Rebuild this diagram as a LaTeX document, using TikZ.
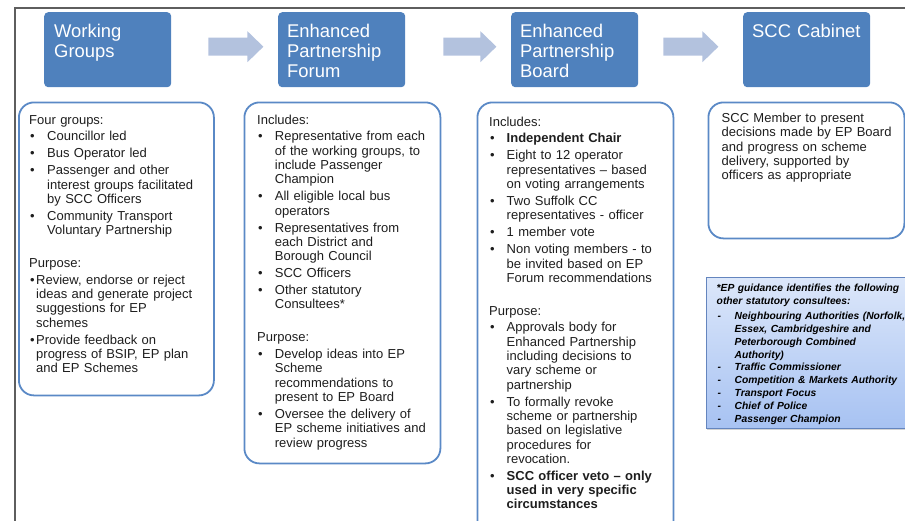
\documentclass[tikz,border=0pt]{standalone}
\usepackage{fontspec}
\setmainfont{Liberation Sans}
\usetikzlibrary{positioning, calc, shadows}

\definecolor{hdrblue}{HTML}{4F81BD}
\definecolor{arrowblue}{HTML}{B3C2DE}
\definecolor{panelblue}{HTML}{5A89C6}
\definecolor{framegray}{HTML}{5E5E5E}
\definecolor{notetop}{HTML}{DCE7FA}
\definecolor{notebottom}{HTML}{A7C2F2}
\definecolor{noteedge}{HTML}{6485BE}
\definecolor{bodytext}{HTML}{1E1E1E}

\newcommand\bodysize{\fontsize{13}{14.3}\selectfont}
\newcommand\titlesize{\fontsize{18.4}{20}\selectfont}
\newcommand\notesize{\fontsize{10.3}{12.8}\selectfont\bfseries\itshape}

% list with label #1 and hanging indent #2
\newenvironment{itemlist}[2]{%
  \begin{list}{#1}{%
    \setlength\leftmargin{#2}\setlength\labelwidth{#2}\setlength\labelsep{0pt}%
    \setlength\itemindent{0pt}\setlength\itemsep{2.7pt}\setlength\parsep{0pt}%
    \setlength\topsep{2.5pt}\setlength\partopsep{0pt}%
    \renewcommand\makelabel[1]{\hspace{1pt}##1\hfil}}}%
  {\end{list}}

% block arrow: start point (middle of the shaft's tail), shaft length
\newcommand\flowarrow[2]{%
  \fill[arrowblue] (#1) ++(0,-9) -- ++(#2,0) -- ++(0,-6.5) -- ++(16,15.5)
    -- ++(-16,15.5) -- ++(0,-6.5) -- ++(-#2,0) -- cycle;}

\tikzset{
  header/.style={anchor=north west, fill=hdrblue, rounded corners=4pt,
    minimum width=127pt, minimum height=75pt, inner sep=0pt},
  headertitle/.style={anchor=base west, inner sep=0pt, text width=120pt,
    align=left, text=white, font=\titlesize},
  panel/.style={anchor=north west, draw=panelblue, line width=1.8pt, fill=white,
    rounded corners=15pt, inner sep=0pt},
  paneltext/.style={anchor=base west, inner sep=0pt, text width=185pt,
    align=left, text=bodytext, font=\bodysize},
  notebox/.style={anchor=north west, draw=noteedge, line width=0.8pt,
    top color=notetop, bottom color=notebottom, inner sep=0pt,
    drop shadow={shadow xshift=0.5pt, shadow yshift=-1.5pt, opacity=0.35}},
  notetext/.style={anchor=base west, inner sep=0pt, text width=200pt,
    align=left, text=black, font=\notesize}
}

\begin{document}
\begin{tikzpicture}[x=1pt, y=-1pt]
    \useasboundingbox (0,0) rectangle (905,520);
    \clip (0,0) rectangle (905,520);

    % Moldura
    \draw[framegray, line width=2pt] (15,521) -- (15,8) -- (906,8);

    % Header boxes
    \node[header] (wg) at (44,12) {};
    \node[header] (epf) at (278,12) {};
    \node[header] (epb) at (511,12) {};
    \node[header] (cab) at (743,12) {};

    \node[headertitle] (wgtitle) at ([shift={(10,25)}]wg.north west) {Working\\Groups};
    \node[headertitle] (epftitle) at ([shift={(9,25)}]epf.north west) {Enhanced\\Partnership\\Forum};
    \node[headertitle] (epbtitle) at ([shift={(9,25)}]epb.north west) {Enhanced\\Partnership\\Board};
    \node[headertitle] (cabtitle) at ([shift={(9,25)}]cab.north west) {SCC Cabinet};

    % Arrows between the headers
    \coordinate (a1) at ([shift={(37,-3)}]wg.east);
    \coordinate (a2) at ([shift={(38,-3)}]epf.east);
    \coordinate (a3) at ([shift={(25,-3)}]epb.east);
    \flowarrow{a1}{39}
    \flowarrow{a2}{37}
    \flowarrow{a3}{39}

    % Panels
    \node[panel, minimum width=195pt, minimum height=293pt] (wgpanel) at (18,101.5) {};
    \node[panel, minimum width=196pt, minimum height=361pt] (epfpanel) at (243.5,101.5) {};
    \node[panel, minimum width=196pt, minimum height=440pt] (epbpanel) at (476.5,101.5) {};
    \node[panel, minimum width=196pt, minimum height=136pt] (cabpanel) at (707.5,101.5) {};

    % Working groups
    \node[paneltext] (wgtext) at ([shift={(11,22.5)}]wgpanel.north west) {%
      Four groups:
      \begin{itemlist}{\textbullet}{18pt}
        \item Councillor led
        \item Bus Operator led
        \item Passenger and other\\ interest groups facilitated\\ by SCC Officers
        \item Community Transport\\ Voluntary Partnership
      \end{itemlist}
      \vspace{16pt}
      Purpose:
      \begin{itemlist}{\textbullet}{7pt}
        \item Review, endorse or reject\\ ideas and generate project\\ suggestions for EP\\ schemes
        \item Provide feedback on\\ progress of BSIP, EP plan\\ and EP Schemes
      \end{itemlist}};

    % Forum
    \node[paneltext] (epftext) at ([shift={(13.5,22.5)}]epfpanel.north west) {%
      Includes:
      \begin{itemlist}{\textbullet}{17.7pt}
        \item Representative from each\\ of the working groups, to\\ include Passenger\\ Champion
        \item All eligible local bus\\ operators
        \item Representatives from\\ each District and\\ Borough Council
        \item SCC Officers
        \item Other statutory\\ Consultees*
      \end{itemlist}
      \vspace{16pt}
      Purpose:
      \begin{itemlist}{\textbullet}{17.7pt}
        \item Develop ideas into EP\\ Scheme\\ recommendations to\\ present to EP Board
        \item Oversee the delivery of\\ EP scheme initiatives and\\ review progress
      \end{itemlist}};

    % Board
    \node[paneltext] (epbtext) at ([shift={(12.5,24.5)}]epbpanel.north west) {%
      Includes:
      \begin{itemlist}{\textbullet}{17.5pt}
        \item \textbf{Independent Chair}
        \item Eight to 12 operator\\ representatives – based\\ on voting arrangements
        \item Two Suffolk CC\\ representatives - officer
        \item 1 member vote
        \item Non voting members - to\\ be invited based on EP\\ Forum recommendations
      \end{itemlist}
      \vspace{16pt}
      Purpose:
      \begin{itemlist}{\textbullet}{17.5pt}
        \item Approvals body for\\ Enhanced Partnership\\ including decisions to\\ vary scheme or\\ partnership
        \item To formally revoke\\ scheme or partnership\\ based on legislative\\ procedures for\\ revocation.
        \item \textbf{SCC officer veto – only\\ used in very specific\\ circumstances}
      \end{itemlist}};

    % Cabinet
    \node[paneltext] (cabtext) at ([shift={(14,21)}]cabpanel.north west) {%
      SCC Member to present\\ decisions made by EP Board\\ and progress on scheme\\ delivery, supported by\\ officers as appropriate};

    % Nota sobre os consultados
    \node[notebox, minimum width=230pt, minimum height=151pt] (note) at (706,277) {};
    \node[notetext] (notetxt) at ([shift={(10.5,14.5)}]note.north west) {%
      \makebox[187pt][s]{*EP guidance identifies the following}\\
      other statutory consultees:
      \begin{itemlist}{-}{18pt}
        \setlength\itemsep{0pt}
        \item \makebox[175pt][s]{Neighbouring Authorities (Norfolk,}\\ Essex, Cambridgeshire and\\ Peterborough Combined\\ Authority)
        \item Traffic Commissioner
        \item Competition \& Markets Authority
        \item Transport Focus
        \item Chief of Police
        \item Passenger Champion
      \end{itemlist}};

\end{tikzpicture}
\end{document}
